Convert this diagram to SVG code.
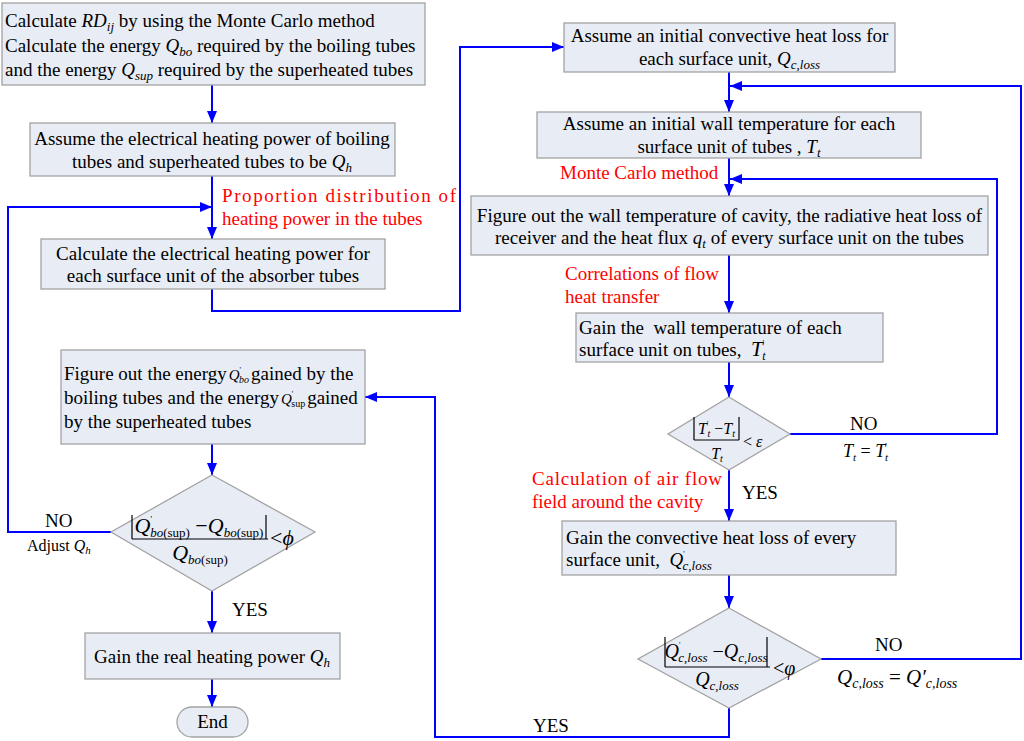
<svg xmlns="http://www.w3.org/2000/svg" width="1024" height="741" viewBox="0 0 1024 741">
<defs>
<marker id="ah" markerUnits="userSpaceOnUse" markerWidth="12" markerHeight="10" refX="12" refY="5" orient="auto">
<path d="M0,0 L12,5 L0,10 z" fill="#0000ff"/>
</marker>
<style>
svg{font-family:"Liberation Serif","Times New Roman",serif;font-size:19px}
.box{fill:#e8ecf5;stroke:#a3a3a3;stroke-width:1.3}
.c{fill:none;stroke:#0000ff;stroke-width:2}
.a{marker-end:url(#ah)}
.m{text-anchor:middle}
.red{fill:#ff0000}
.i{font-style:italic}
.f{stroke:#000;stroke-width:1.2}
</style>
</defs>
<rect width="1024" height="741" fill="#ffffff"/>

<g id="connectors">
<path class="c a" d="M212,85 V123"/>
<path class="c a" d="M212,176 V239"/>
<path class="c a" d="M111,532 H8 V207 H212"/>
<path class="c a" d="M212,289 V311 H460 V47 H564"/>
<path class="c a" d="M729,72 V112"/>
<path class="c a" d="M821,659 H1021 V86 H730"/>
<path class="c a" d="M729,158 V196"/>
<path class="c a" d="M790,434 H997 V179 H730"/>
<path class="c a" d="M729,255 V313"/>
<path class="c a" d="M729,362 V397"/>
<path class="c a" d="M729,470 V521"/>
<path class="c a" d="M729,575 V608"/>
<path class="c a" d="M729,708 V737 H435 V397 H365"/>
<path class="c a" d="M212,444 V475"/>
<path class="c a" d="M212,591 V633"/>
<path class="c a" d="M212,679 V707"/>
</g>

<g id="labels">
<text class="red" x="222" y="202" textLength="234" lengthAdjust="spacing">Proportion distribution of</text>
<text class="red" x="222" y="225">heating power in the tubes</text>
<text class="red" x="560" y="179">Monte Carlo method</text>
<text class="red" x="565" y="280">Correlations of flow</text>
<text class="red" x="565" y="303">heat transfer</text>
<text class="red" x="532" y="485" textLength="190" lengthAdjust="spacing">Calculation of air flow</text>
<text class="red" x="532" y="508">field around the cavity</text>
<text x="45" y="527">NO</text>
<text x="27" y="551" font-size="16">Adjust <tspan class="i">Q</tspan><tspan font-size="11" class="i" dy="3">h</tspan></text>
<text x="232" y="616">YES</text>
<text x="850" y="430">NO</text>
<text x="843" y="457" font-size="18"><tspan class="i">T</tspan><tspan class="i" font-size="11" dy="4">t</tspan><tspan dy="-4"> = </tspan><tspan class="i">T</tspan><tspan font-size="9" dy="-8">'</tspan><tspan class="i" font-size="11" dx="-2" dy="12">t</tspan></text>
<text x="742" y="499">YES</text>
<text x="875" y="651">NO</text>
<text x="837" y="684" font-size="21"><tspan class="i">Q</tspan><tspan class="i" font-size="14" dy="4">c,loss</tspan><tspan dy="-4"> = </tspan><tspan class="i">Q′</tspan><tspan class="i" font-size="14" dy="4">c,loss</tspan></text>
<text x="533" y="732">YES</text>
</g>

<g id="n1">
<rect class="box" x="2" y="3" width="423" height="82"/>
<text x="5" y="27">Calculate <tspan class="i">RD</tspan><tspan class="i" font-size="13" dy="4">ij</tspan><tspan dy="-4"> by using the Monte Carlo method</tspan></text>
<text x="5" y="52">Calculate the energy <tspan class="i">Q</tspan><tspan class="i" font-size="13" dy="4">bo</tspan><tspan dy="-4"> required by the boiling tubes</tspan></text>
<text x="5" y="76">and the energy <tspan class="i">Q</tspan><tspan class="i" font-size="13" dy="4">sup</tspan><tspan dy="-4"> required by the superheated tubes</tspan></text>
</g>

<g id="n2">
<rect class="box" x="30" y="123" width="365" height="53"/>
<text class="m" x="212" y="145">Assume the electrical heating power of boiling</text>
<text class="m" x="212" y="168">tubes and superheated tubes to be <tspan class="i">Q</tspan><tspan class="i" font-size="13" dy="4">h</tspan></text>
</g>

<g id="n3">
<rect class="box" x="41" y="239" width="344" height="50"/>
<text class="m" x="213" y="260">Calculate the electrical heating power for</text>
<text class="m" x="213" y="282">each surface unit of the absorber tubes</text>
</g>

<g id="n4">
<rect class="box" x="61" y="350" width="304" height="94"/>
<text x="64" y="380">Figure out the energy<tspan class="i" font-size="15" dx="2">Q</tspan><tspan font-size="8" dy="-7">'</tspan><tspan class="i" font-size="10" dx="-2" dy="10">bo</tspan><tspan dx="2" dy="-3">gained by the</tspan></text>
<text x="64" y="404">boiling tubes and the energy<tspan class="i" font-size="15" dx="2">Q</tspan><tspan font-size="8" dy="-7">'</tspan><tspan font-size="10" dx="-2" dy="10">sup</tspan><tspan dx="2" dy="-3">gained</tspan></text>
<text x="64" y="428">by the superheated tubes</text>
</g>

<g id="n5">
<polygon class="box" points="212,475 315,532 212,591 111,532"/>
<line class="f" x1="132" y1="515" x2="132" y2="539"/>
<line class="f" x1="266" y1="515" x2="266" y2="539"/>
<line class="f" x1="132" y1="539" x2="268" y2="539"/>
<text class="m" x="199" y="533" font-size="22"><tspan class="i">Q</tspan><tspan font-size="9" dy="-11">'</tspan><tspan font-size="13" dx="-2" dy="15"><tspan class="i">bo</tspan>(sup)</tspan><tspan dy="-4"> −</tspan><tspan class="i">Q</tspan><tspan font-size="13" dy="4"><tspan class="i">bo</tspan>(sup)</tspan></text>
<text class="m" x="200" y="560" font-size="22"><tspan class="i">Q</tspan><tspan font-size="13" dy="4"><tspan class="i">bo</tspan>(sup)</tspan></text>
<text x="270" y="545" font-size="22">&lt;<tspan class="i">ϕ</tspan></text>
</g>

<g id="n6">
<rect class="box" x="85" y="633" width="255" height="46"/>
<text class="m" x="212" y="663">Gain the real heating power <tspan class="i">Q</tspan><tspan class="i" font-size="13" dy="4">h</tspan></text>
</g>

<g id="n7">
<rect class="box" x="177" y="707" width="71" height="30" rx="15" ry="15"/>
<text class="m" x="212.5" y="728">End</text>
</g>

<g id="nR1">
<rect class="box" x="564" y="23" width="331" height="49"/>
<text class="m" x="729.5" y="42">Assume an initial convective heat loss for</text>
<text class="m" x="729.5" y="65">each surface unit, <tspan class="i">Q</tspan><tspan class="i" font-size="13" dy="4">c,loss</tspan></text>
</g>

<g id="nR2">
<rect class="box" x="537" y="112" width="384" height="46"/>
<text class="m" x="729" y="130">Assume an initial wall temperature for each</text>
<text class="m" x="729" y="153">surface unit of tubes , <tspan class="i">T</tspan><tspan class="i" font-size="13" dy="4">t</tspan></text>
</g>

<g id="nR3">
<rect class="box" x="471" y="196" width="517" height="59"/>
<text class="m" x="729.5" y="222">Figure out the wall temperature of cavity, the radiative heat loss of</text>
<text class="m" x="729.5" y="244">receiver and the heat flux <tspan class="i">q</tspan><tspan class="i" font-size="13" dy="4">t</tspan><tspan dy="-4"> of every surface unit on the tubes</tspan></text>
</g>

<g id="nR4">
<rect class="box" x="576" y="313" width="307" height="49"/>
<text x="579" y="334" xml:space="preserve">Gain the  wall temperature of each</text>
<text x="579" y="356" xml:space="preserve">surface unit on tubes,  <tspan class="i" font-size="21">T</tspan><tspan font-size="8" dy="-10">'</tspan><tspan class="i" font-size="12" dx="-2" dy="14">t</tspan></text>
</g>

<g id="nR5">
<polygon class="box" points="729,397 790,434 729,470 668,434"/>
<line class="f" x1="694" y1="417" x2="694" y2="440"/>
<line class="f" x1="739" y1="417" x2="739" y2="440"/>
<line class="f" x1="694" y1="440" x2="739" y2="440"/>
<text class="m" x="716.5" y="434" font-size="16"><tspan class="i">T</tspan><tspan font-size="8" dy="-7">'</tspan><tspan class="i" font-size="10" dx="-1" dy="10">t</tspan><tspan dy="-3"> −</tspan><tspan class="i">T</tspan><tspan class="i" font-size="10" dy="3">t</tspan></text>
<text class="m" x="717" y="459" font-size="16"><tspan class="i">T</tspan><tspan class="i" font-size="10" dy="3">t</tspan></text>
<text x="743" y="447" font-size="16">&lt; <tspan class="i">ε</tspan></text>
</g>

<g id="nR6">
<rect class="box" x="562" y="521" width="334" height="54"/>
<text x="566" y="544">Gain the convective heat loss of every</text>
<text x="566" y="566" xml:space="preserve">surface unit,  <tspan class="i">Q</tspan><tspan font-size="8" dy="-9">'</tspan><tspan class="i" font-size="13" dx="-2" dy="13">c,loss</tspan></text>
</g>

<g id="nR7">
<polygon class="box" points="729,608 821,659 729,708 638,659"/>
<line class="f" x1="665" y1="637" x2="665" y2="667"/>
<line class="f" x1="767" y1="637" x2="767" y2="667"/>
<line class="f" x1="665" y1="667" x2="770" y2="667"/>
<text class="m" x="716" y="658" font-size="20"><tspan class="i">Q</tspan><tspan font-size="8" dy="-10">'</tspan><tspan class="i" font-size="13" dx="-2" dy="14">c,loss</tspan><tspan dy="-4"> −</tspan><tspan class="i">Q</tspan><tspan class="i" font-size="13" dy="4">c,loss</tspan></text>
<text class="m" x="717" y="686" font-size="20"><tspan class="i">Q</tspan><tspan class="i" font-size="13" dy="4">c,loss</tspan></text>
<text x="773" y="675" font-size="20">&lt;<tspan class="i">φ</tspan></text>
</g>
</svg>
